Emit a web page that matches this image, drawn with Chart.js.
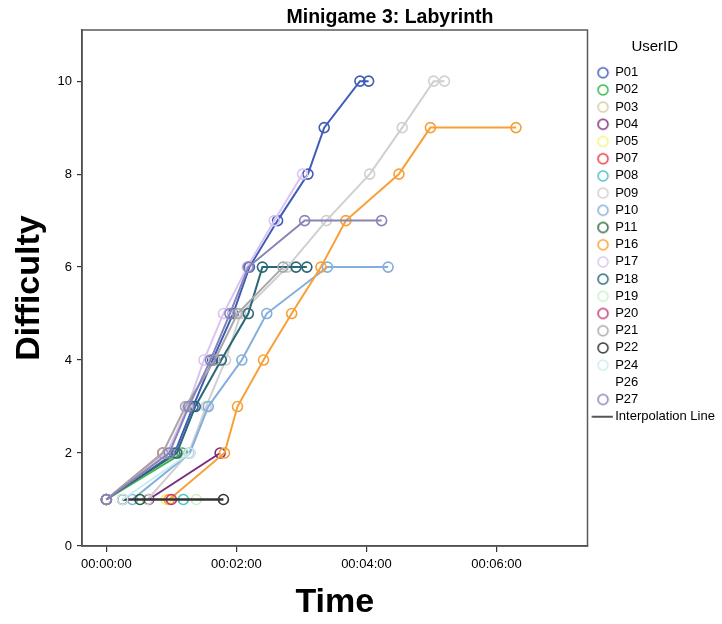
<!DOCTYPE html>
<html>
<head>
<meta charset="utf-8">
<script src="https://cdn.jsdelivr.net/npm/chart.js@4.4.1/dist/chart.umd.min.js"></script>
<style>
  html, body { margin: 0; padding: 0; background: #fff; }
</style>
</head>
<body>
<canvas id="chart" width="722" height="624"></canvas>
<script>
// Minigame 3: Labyrinth - difficulty over time per user (time in seconds)

const chartTitle = 'Minigame 3: Labyrinth';
const legendTitle = 'UserID';
const xTitle = 'Time';
const yTitle = 'Difficulty';

const xTickSeconds = [0, 120, 240, 360];
const yTickValues = [0, 2, 4, 6, 8, 10];

// [seconds, difficulty]
const P01 = [[0, 1], [63, 2], [80, 3], [98, 4], [117, 5], [132, 6], [158, 7], [186, 8], [201, 9], [234, 10], [242, 10]];
const P02 = [[0, 1], [70, 2]];
const P03 = [[0, 1], [66, 2]];
const P04 = [[39, 1], [105, 2]];
const P05 = [[55, 1]];
const P07 = [[0, 1], [52, 2]];
const P08 = [[71, 1]];
const P09 = [[38, 1], [76, 2], [92, 3], [110, 4], [124, 5], [167, 6], [203, 7], [243, 8], [273, 9], [302, 10], [312, 10]];
const P10 = [[24, 1], [77, 2], [94, 3], [125, 4], [148, 5], [204, 6], [260, 6]];
const P11 = [[31, 1]];
const P16 = [[58, 1], [109, 2], [121, 3], [145, 4], [171, 5], [198, 6], [221, 7], [270, 8], [299, 9], [378, 9]];
const P17 = [[0, 1], [56, 2], [75, 3], [90, 4], [108, 5], [130, 6], [155, 7], [181, 8]];
const P18 = [[0, 1], [65, 2], [82, 3], [106, 4], [131, 5], [144, 6], [175, 6], [185, 6]];
const P19 = [[83, 1]];
const P20 = [[60, 1]];
const P21 = [[0, 1], [52, 2], [73, 3], [100, 4], [121, 5], [163, 6]];
const P22 = [[15, 1], [108, 1]];
const P24 = [[15, 1], [77, 2]];
const P26 = [];
const P27 = [[0, 1], [58, 2], [76, 3], [96, 4], [114, 5], [131, 6], [183, 7], [254, 7]];

const userIds = ['P01', 'P02', 'P03', 'P04', 'P05', 'P07', 'P08', 'P09', 'P10', 'P11',
                 'P16', 'P17', 'P18', 'P19', 'P20', 'P21', 'P22', 'P24', 'P26', 'P27'];
const userData = [P01, P02, P03, P04, P05, P07, P08, P09, P10, P11,
                  P16, P17, P18, P19, P20, P21, P22, P24, P26, P27];
const userColors = ['#3f5db8', '#2eb848', '#d4ce9e', '#7b2b82', '#f8f37a', '#e8383d', '#48c4c4', '#d0d0d0', '#83aede', '#24663a',
                    '#f7a038', '#dcc4f0', '#2a6878', '#c8f2c8', '#c03a78', '#a8a8a8', '#333333', '#c8eef0', 'rgba(0,0,0,0)', '#8784b8'];

const FONT = 'Arial, "Liberation Sans", sans-serif';

function fmtTime(sec) {
  const h = Math.floor(sec / 3600);
  const m = Math.floor((sec % 3600) / 60);
  const s = Math.round(sec % 60);
  const p = n => String(n).padStart(2, '0');
  return p(h) + ':' + p(m) + ':' + p(s);
}

// little canvases used as legend symbols
function ringIcon(color) {
  const c = document.createElement('canvas');
  c.width = 20; c.height = 14;
  const g = c.getContext('2d');
  g.strokeStyle = color;
  g.lineWidth = 1.5;
  g.beginPath();
  g.arc(12.8, 7, 5, 0, Math.PI * 2);
  g.stroke();
  return c;
}
function lineIcon(color) {
  const c = document.createElement('canvas');
  c.width = 26; c.height = 4;
  const g = c.getContext('2d');
  g.fillStyle = color;
  g.fillRect(4.5, 1, 21.3, 2);
  return c;
}

// later users are drawn on top (lower order = drawn later)
const datasets = userIds.map((id, i) => ({
  label: id,
  data: userData[i].map(d => ({ x: d[0], y: d[1] })),
  order: userIds.length - i,
  borderColor: userColors[i],
  backgroundColor: 'rgba(0,0,0,0)',
  pointBorderColor: userColors[i],
  pointBackgroundColor: 'rgba(0,0,0,0)',
  pointRadius: 5,
  pointHoverRadius: 5,
  pointBorderWidth: 1.6,
  borderWidth: id === 'P22' ? 2.4 : 2,
  tension: 0,
  fill: false,
  legendIcon: ringIcon(userColors[i])
}));
datasets.push({
  label: 'Interpolation Line',
  data: [],
  order: 0,
  borderColor: '#555555',
  backgroundColor: 'rgba(0,0,0,0)',
  pointRadius: 0,
  borderWidth: 1.5,
  legendIcon: lineIcon('#555555')
});

const titlePlugin = {
  id: 'topTitle',
  afterDraw(chart) {
    const ctx = chart.ctx;
    ctx.save();
    ctx.font = 'bold 19.5px ' + FONT;
    ctx.fillStyle = '#000';
    ctx.textAlign = 'center';
    ctx.textBaseline = 'middle';
    ctx.fillText(chartTitle, 390, 18);
    ctx.restore();
  }
};

const framePlugin = {
  id: 'frame',
  afterDatasetsDraw(chart) {
    const a = chart.chartArea;
    const ctx = chart.ctx;
    ctx.save();
    ctx.strokeStyle = '#5a5a5a';
    ctx.lineWidth = 1.5;
    ctx.strokeRect(a.left, a.top, a.right - a.left, a.bottom - a.top);
    ctx.restore();
  }
};

new Chart(document.getElementById('chart').getContext('2d'), {
  type: 'line',
  data: { datasets: datasets },
  plugins: [titlePlugin, framePlugin],
  options: {
    responsive: false,
    animation: false,
    layout: { padding: { top: 30, right: 0, left: 0, bottom: 0 } },
    plugins: {
      tooltip: { enabled: false },
      legend: {
        position: 'right',
        align: 'start',
        maxWidth: 134.5,
        title: {
          display: true,
          text: legendTitle,
          color: '#000',
          font: { family: FONT, size: 15 },
          padding: { top: 9.2, bottom: 4.8 }
        },
        labels: {
          usePointStyle: true,
          pointStyleWidth: 17,
          boxHeight: 13,
          padding: 4.2,
          color: '#000',
          font: { family: FONT, size: 13 },
          generateLabels(chart) {
            return chart.data.datasets.map((ds, i) => ({
              text: ds.label,
              fillStyle: 'rgba(0,0,0,0)',
              strokeStyle: ds.borderColor,
              lineWidth: 0,
              pointStyle: ds.legendIcon,
              hidden: !chart.isDatasetVisible(i),
              datasetIndex: i,
              fontColor: '#000'
            }));
          }
        }
      }
    },
    scales: {
      x: {
        type: 'linear',
        min: -22.5,
        max: 444,
        afterBuildTicks(scale) {
          scale.ticks = xTickSeconds.map(v => ({ value: v }));
        },
        afterFit(scale) { scale.height = 78; },
        grid: { display: true, drawOnChartArea: false, drawTicks: true, tickLength: 6, color: '#333', lineWidth: 1.2 },
        border: { display: true, color: '#333', width: 1.5 },
        ticks: {
          color: '#000',
          font: { family: FONT, size: 13 },
          padding: 5,
          maxRotation: 0,
          callback: v => fmtTime(v)
        },
        title: {
          display: true,
          text: xTitle,
          color: '#000',
          font: { family: FONT, size: 34, weight: 'bold' },
          padding: { top: 0, bottom: 0.6 }
        }
      },
      y: {
        type: 'linear',
        min: 0,
        max: 11.1,
        afterBuildTicks(scale) {
          scale.ticks = yTickValues.map(v => ({ value: v }));
        },
        afterFit(scale) { scale.width = 82; },
        grid: { display: true, drawOnChartArea: false, drawTicks: true, tickLength: 5, color: '#333', lineWidth: 1.2 },
        border: { display: true, color: '#333', width: 1.5 },
        ticks: {
          color: '#000',
          font: { family: FONT, size: 13 },
          padding: 5
        },
        title: {
          display: true,
          text: yTitle,
          color: '#000',
          font: { family: FONT, size: 34, weight: 'bold' },
          padding: { top: 9, bottom: 0 }
        }
      }
    }
  }
});
</script>
</body>
</html>
